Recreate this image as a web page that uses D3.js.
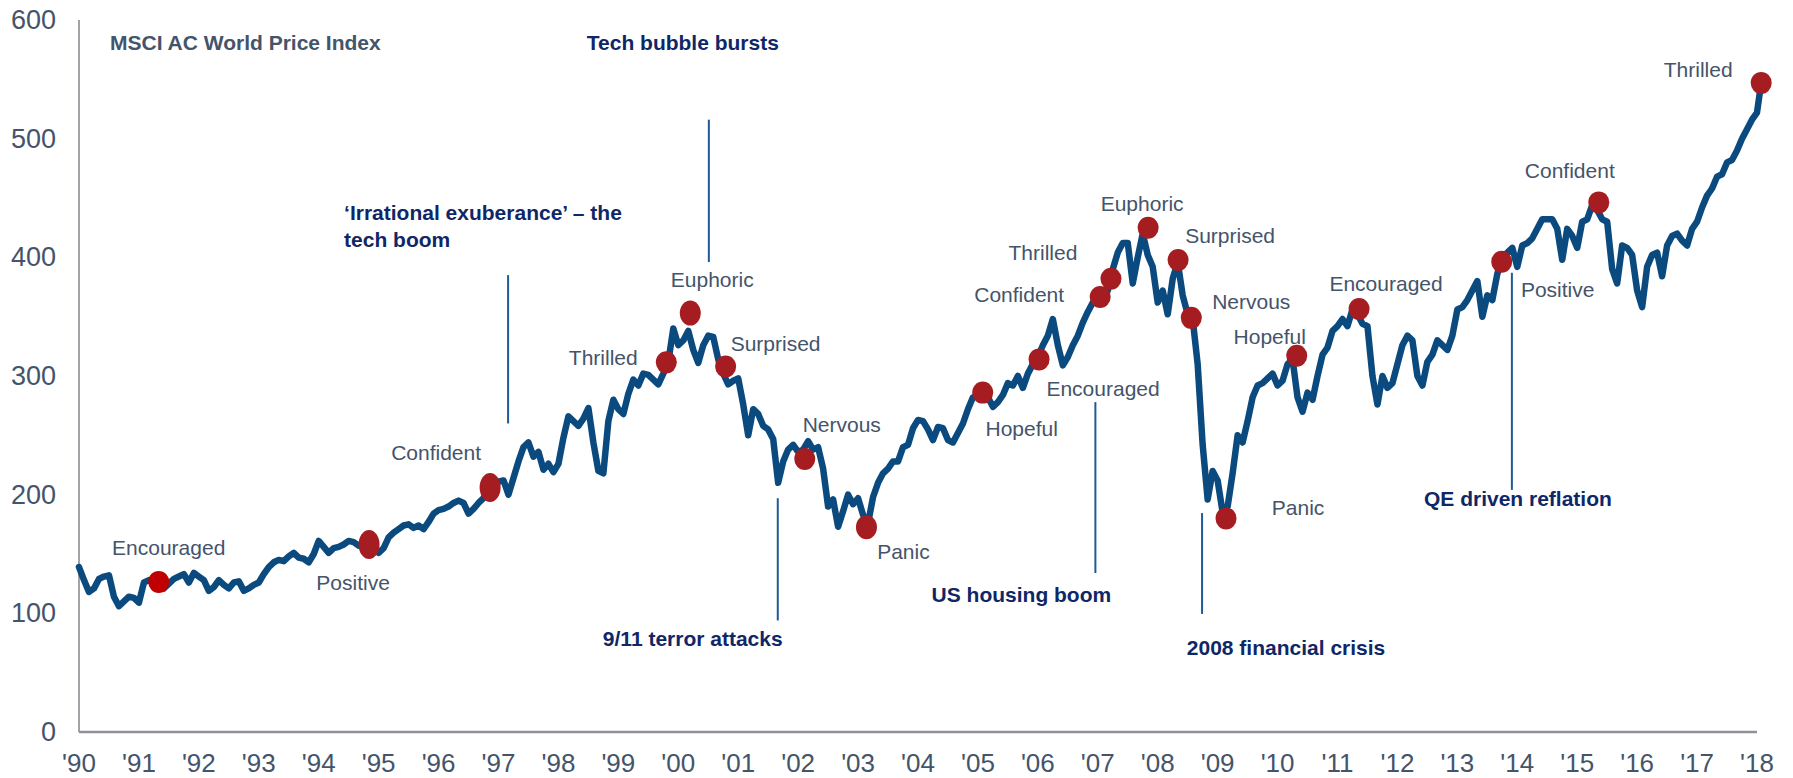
<!DOCTYPE html>
<html>
<head>
<meta charset="utf-8">
<script src="https://cdn.jsdelivr.net/npm/d3@7"></script>
<style>
  body { margin: 0; background: #fff; }
  svg { display: block; font-family: "Liberation Sans", Arial, sans-serif; }
</style>
</head>
<body>
<div id="chart"></div>
<script>
// MSCI AC World Price Index, month-start values Jan 1990 .. Jan 2018
const startYear = 1990;
const indexValues = [
  139, 128, 118, 121, 129, 131, 132, 114, 106, 110, 114, 113, // 1990
  109, 126, 128, 127, 126, 121, 125, 129, 131, 133, 126, 134, // 1991
  131, 128, 119, 122, 128, 124, 121, 126, 127, 119, 121, 124, // 1992
  126, 133, 139, 143, 145, 144, 148, 151, 147, 146, 143, 150, // 1993
  161, 156, 151, 155, 156, 158, 161, 160, 157, 159, 154, 156, // 1994
  151, 155, 164, 168, 171, 174, 175, 172, 174, 171, 177, 184, // 1995
  187, 188, 190, 193, 195, 193, 184, 188, 193, 197, 204, 205, // 1996
  211, 212, 200, 214, 228, 240, 244, 232, 236, 221, 226, 219, // 1997
  226, 248, 266, 262, 258, 264, 273, 244, 220, 218, 262, 280, // 1998
  272, 268, 285, 297, 292, 302, 301, 297, 293, 302, 312, 340, // 1999
  326, 330, 338, 322, 311, 326, 334, 333, 314, 302, 293, 296, // 2000
  298, 276, 250, 272, 268, 258, 255, 247, 210, 228, 238, 242, // 2001
  236, 238, 245, 238, 240, 222, 190, 196, 173, 186, 200, 192, // 2002
  197, 183, 176, 198, 210, 218, 222, 228, 228, 240, 242, 256, // 2003
  263, 262, 255, 246, 257, 256, 246, 244, 252, 260, 272, 282, // 2004
  284, 288, 282, 274, 278, 284, 294, 292, 300, 290, 302, 310, // 2005
  316, 326, 334, 348, 326, 309, 316, 326, 334, 345, 354, 362, // 2006
  366, 362, 372, 390, 404, 412, 412, 378, 400, 420, 402, 392, // 2007
  362, 372, 352, 382, 396, 368, 352, 348, 310, 242, 196, 220, // 2008
  212, 185, 190, 218, 250, 244, 262, 282, 292, 294, 298, 302, // 2009
  292, 296, 310, 314, 282, 270, 286, 280, 300, 318, 324, 338, // 2010
  342, 348, 342, 356, 352, 344, 342, 300, 276, 300, 290, 294, // 2011
  310, 326, 334, 330, 300, 292, 312, 318, 330, 326, 322, 334, // 2012
  356, 358, 364, 372, 380, 350, 368, 364, 386, 400, 404, 408, // 2013
  392, 410, 412, 416, 424, 432, 432, 432, 424, 398, 424, 418, // 2014
  408, 430, 432, 444, 440, 432, 430, 390, 378, 410, 408, 402, // 2015
  372, 358, 392, 402, 404, 384, 410, 418, 420, 414, 410, 424, // 2016
  430, 442, 452, 458, 468, 470, 480, 482, 490, 500, 508, 516, // 2017
  522                                                         // Jan 2018
];
const lastDate = 2018.07;
const lastValue = 547;

// sentiment points
const moodLabels = ["Encouraged", "Positive", "Confident", "Thrilled", "Euphoric", "Surprised",
  "Nervous", "Panic", "Hopeful", "Encouraged", "Confident", "Thrilled", "Euphoric", "Surprised",
  "Nervous", "Panic", "Hopeful", "Encouraged", "Positive", "Confident", "Thrilled"];
const moodDates = [1991.33, 1994.84, 1996.86, 1999.8, 2000.2, 2000.79, 2002.11, 2003.14,
  2005.08, 2006.02, 2007.04, 2007.22, 2007.84, 2008.34, 2008.56, 2009.14, 2010.32, 2011.36,
  2013.74, 2015.36, 2018.07];
const moodValues = [126.5, 158, 206, 311.5, 353, 308, 230, 172.5, 286, 314, 366.5, 382, 425,
  397.7, 349, 180, 317, 356.4, 396.3, 446.3, 547];

// market events
const eventLabels = [
  ["\u2018Irrational exuberance\u2019 \u2013 the", "tech boom"],
  ["Tech bubble bursts"],
  ["9/11 terror attacks"],
  ["US housing boom"],
  ["2008 financial crisis"],
  ["QE driven reflation"]
];
const eventDates = [1997.16, 2000.51, 2001.66, 2006.96, 2008.74, 2013.91];

const yTicks = [0, 100, 200, 300, 400, 500, 600];
const yearLabels = ["'90", "'91", "'92", "'93", "'94", "'95", "'96", "'97", "'98", "'99",
  "'00", "'01", "'02", "'03", "'04", "'05", "'06", "'07", "'08", "'09", "'10", "'11", "'12",
  "'13", "'14", "'15", "'16", "'17", "'18"];

// ---- layout ----
const width = 1793, height = 778;
const plotLeft = 79, plotRight = 1757, plotTop = 20, plotBottom = 732;

// label offset from each dot centre (px)
const moodOffsets = [[10, -34], [-16, 38], [-54, -35], [-63, -5], [22, -33], [50, -23],
  [37, -34], [37, 24], [39, 36], [64, 29], [-81, -2], [-68, -26], [-6, -24], [52, -24],
  [60, -16], [72, -11], [-27, -19], [27, -25], [56, 28], [-29, -32], [-63, -13]];
// some markers are drawn a bit taller than wide
const moodRy = { 1: 14.5, 2: 14.5, 4: 12.5, 7: 12 };

// event line span (index units) and text placement (dx from line, y in px, anchor)
const eventLayout = [
  { from: 385, to: 260, dx: -164, y: 213, anchor: "start" },
  { from: 516, to: 396, dx: -26, y: 43, anchor: "middle" },
  { from: 197, to: 94, dx: -85, y: 639, anchor: "middle" },
  { from: 278, to: 134, dx: -74, y: 595, anchor: "middle" },
  { from: 184.5, to: 99.5, dx: 84, y: 648, anchor: "middle" },
  { from: 387, to: 204, dx: 6, y: 499, anchor: "middle" }
];

const grayText = "#44546a";
const navyText = "#0f2766";
const lineBlue = "#0a4a7e";

const svg = d3.select("#chart")
  .append("svg")
  .attr("width", width)
  .attr("height", height);

const xScale = d3.scaleLinear().domain([1990, 2018]).range([plotLeft, plotRight]);
const yScale = d3.scaleLinear().domain([0, 600]).range([plotBottom, plotTop]);

// axes
svg.append("line")
  .attr("x1", plotLeft).attr("x2", plotLeft)
  .attr("y1", yScale(600)).attr("y2", yScale(0))
  .attr("stroke", "#a0a4a8").attr("stroke-width", 2);

svg.append("line")
  .attr("x1", plotLeft).attr("x2", plotRight)
  .attr("y1", yScale(0)).attr("y2", yScale(0))
  .attr("stroke", "#8e9297").attr("stroke-width", 2.5);

svg.selectAll(".ytick")
  .data(yTicks)
  .enter()
  .append("text")
  .attr("class", "ytick")
  .attr("x", 56)
  .attr("y", (d) => yScale(d))
  .attr("dy", "0.33em")
  .attr("text-anchor", "end")
  .attr("font-size", 27)
  .attr("fill", grayText)
  .text((d) => d);

svg.selectAll(".xtick")
  .data(yearLabels)
  .enter()
  .append("text")
  .attr("class", "xtick")
  .attr("x", (d, i) => xScale(startYear + i))
  .attr("y", 772)
  .attr("text-anchor", "middle")
  .attr("font-size", 26)
  .attr("fill", grayText)
  .text((d) => d);

// title
svg.append("text")
  .attr("x", 110)
  .attr("y", 43)
  .attr("dy", "0.35em")
  .attr("font-size", 21)
  .attr("font-weight", "bold")
  .attr("fill", grayText)
  .text("MSCI AC World Price Index");

// event markers
eventDates.forEach((d, i) => {
  const lay = eventLayout[i];
  const x = xScale(d);
  svg.append("line")
    .attr("x1", x).attr("x2", x)
    .attr("y1", yScale(lay.from)).attr("y2", yScale(lay.to))
    .attr("stroke", "#1f5a96").attr("stroke-width", 2);

  const t = svg.append("text")
    .attr("y", lay.y)
    .attr("text-anchor", lay.anchor)
    .attr("font-size", 21)
    .attr("font-weight", "bold")
    .attr("fill", navyText);
  eventLabels[i].forEach((line, j) => {
    t.append("tspan")
      .attr("x", x + lay.dx)
      .attr("dy", j === 0 ? "0.35em" : 27)
      .text(line);
  });
});

// index line
const points = indexValues.map((v, i) => [startYear + i / 12, v]);
points.push([lastDate, lastValue]);

const lineGenerator = d3.line()
  .x((d) => xScale(d[0]))
  .y((d) => yScale(d[1]));

svg.append("path")
  .datum(points)
  .attr("fill", "none")
  .attr("stroke", lineBlue)
  .attr("stroke-width", 6.5)
  .attr("stroke-linejoin", "round")
  .attr("stroke-linecap", "round")
  .attr("d", lineGenerator);

// sentiment dots + labels
for (let i = 0; i < moodLabels.length; i++) {
  const cx = xScale(moodDates[i]);
  const cy = yScale(moodValues[i]);
  svg.append("ellipse")
    .attr("cx", cx)
    .attr("cy", cy)
    .attr("rx", 10.5)
    .attr("ry", moodRy[i] || 11)
    .attr("fill", i === 0 ? "#c00000" : "#a51d21");

  svg.append("text")
    .attr("x", cx + moodOffsets[i][0])
    .attr("y", cy + moodOffsets[i][1])
    .attr("dy", "0.35em")
    .attr("text-anchor", "middle")
    .attr("font-size", 21)
    .attr("fill", grayText)
    .text(moodLabels[i]);
}
</script>
</body>
</html>
